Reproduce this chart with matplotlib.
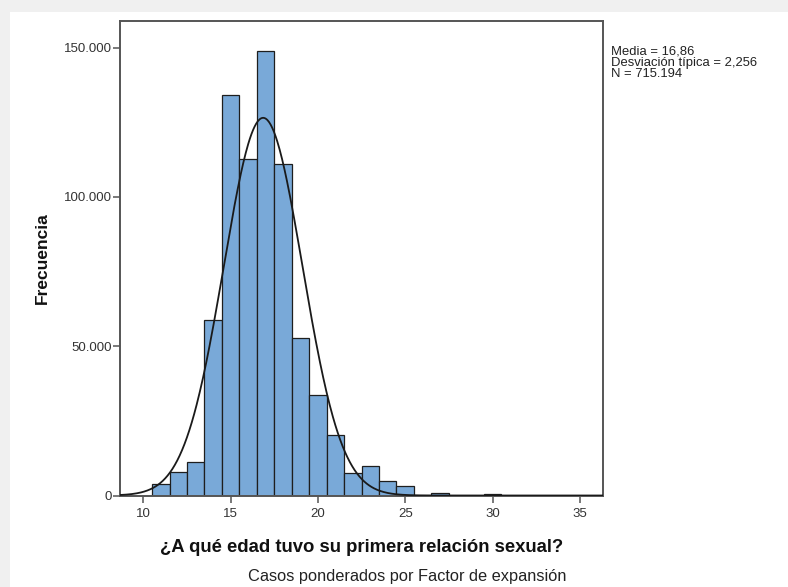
import numpy as np
import matplotlib
matplotlib.use("Agg")
import matplotlib.pyplot as plt
from matplotlib.patches import Rectangle

# ---- data ----
ages = [11, 12, 13, 14, 15, 16, 17, 18, 19, 20, 21, 22, 23, 24, 25, 27, 30]
freqs = [3800, 7900, 11200, 58700, 134000, 112600, 149000, 110900, 52600,
         33700, 20100, 7600, 10000, 4700, 3300, 700, 400]
mean_val = 16.86
sd_val = 2.256
n_val = 715194
bin_width = 1.0
xticks = [10, 15, 20, 25, 30, 35]
yticks = [0, 50000, 100000, 150000]
ytick_labels = ["0", "50.000", "100.000", "150.000"]
stats_lines = ["Media = 16,86", "Desviación típica = 2,256", "N = 715.194"]
xlabel = "¿A qué edad tuvo su primera relación sexual?"
ylabel = "Frecuencia"
footnote = "Casos ponderados por Factor de expansión"

plt.rcParams['font.family'] = ['Liberation Sans', 'DejaVu Sans']

W, H = 788, 587
fig = plt.figure(figsize=(W / 100, H / 100), dpi=100)
fig.patch.set_facecolor('white')

# light gray frame bands (top and left) of the screenshot
fig.add_artist(Rectangle((0, 1 - 12 / H), 1, 12 / H, transform=fig.transFigure,
                         facecolor='#f0f0f0', edgecolor='none', zorder=0))
fig.add_artist(Rectangle((0, 0), 10 / W, 1, transform=fig.transFigure,
                         facecolor='#f0f0f0', edgecolor='none', zorder=0))

ax_left, ax_right = 120 / W, 603 / W
ax_top, ax_bottom = 1 - 20.7 / H, 1 - 495.5 / H
ax = fig.add_axes([ax_left, ax_bottom, ax_right - ax_left, ax_top - ax_bottom])

ax.bar(ages, freqs, width=bin_width, align='center', color='#79a9d8',
       edgecolor='#1e1e1e', linewidth=0.9, zorder=2)

xs = np.linspace(8.66, 36.33, 600)
pdf = n_val * bin_width / (sd_val * np.sqrt(2 * np.pi)) * np.exp(-0.5 * ((xs - mean_val) / sd_val) ** 2)
ax.plot(xs, pdf, color='#1a1a1a', linewidth=1.3, zorder=3)

ax.set_xlim(8.66, 36.33)
ax.set_ylim(0, 159000)
ax.set_xticks(xticks)
ax.set_xticklabels([str(t) for t in xticks])
ax.set_yticks(yticks)
ax.set_yticklabels(ytick_labels)

for s in ax.spines.values():
    s.set_color('#555555')
    s.set_linewidth(1.4)

ax.tick_params(axis='both', direction='out', length=5, width=1.1,
               color='#555555', labelsize=9.5, labelcolor='#333333', pad=1)
ax.tick_params(axis='x', pad=4)

fig.text(361.5 / W, 1 - 548 / H, xlabel, ha='center', va='center',
         fontsize=13.3, fontweight='bold', color='#111111')
fig.text(42 / W, 1 - 258 / H, ylabel, ha='center', va='center', rotation=90,
         fontsize=12.5, fontweight='bold', color='#111111')

fig.text(407 / W, 1 - 577 / H, footnote, ha='center', va='center',
         fontsize=11.8, color='#222222')

for i, line in enumerate(stats_lines):
    fig.text(611 / W, 1 - (55 + 11 * i) / H, line, ha='left', va='baseline',
             fontsize=9.4, color='#222222')

fig.savefig('out.png', dpi=100)
